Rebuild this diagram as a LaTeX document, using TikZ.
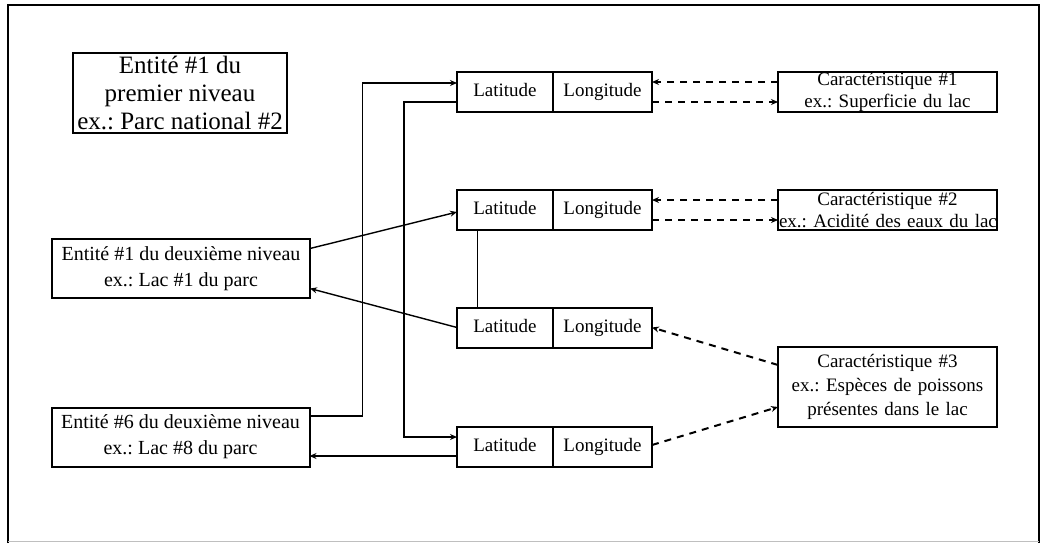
\documentclass[tikz,border=0pt]{standalone}
\usepackage{fontspec}
\setmainfont{Liberation Serif}
\usetikzlibrary{arrows.meta,positioning}
\tikzstyle{topbox}=[rectangle,draw=black,line width=2pt,inner sep=0pt,outer sep=0pt,
  align=center,minimum width=214pt,minimum height=80pt,font=\fontsize{25}{28}\selectfont]
\tikzstyle{entbox}=[rectangle,draw=black,line width=2pt,inner sep=0pt,outer sep=0pt,
  align=center,minimum width=258pt,minimum height=59pt,font=\fontsize{20}{26}\selectfont]
\tikzstyle{latbox}=[rectangle,draw=black,line width=2pt,inner sep=0pt,outer sep=0pt,
  minimum width=96pt,minimum height=40pt,text height=13pt,text depth=4pt,
  font=\fontsize{19}{23}\selectfont]
\tikzstyle{lonbox}=[latbox,minimum width=99pt]
\tikzstyle{carbox}=[rectangle,draw=black,line width=2pt,inner sep=0pt,outer sep=0pt,
  align=center,text width=217pt,minimum width=219pt,minimum height=40pt,
  font=\fontsize{19}{22}\selectfont]
\tikzstyle{link}=[line width=1.4pt,-{Stealth[length=7pt,width=6pt]}]
\tikzstyle{dlink}=[line width=2pt,dash pattern=on 7pt off 6pt,-{Stealth[length=7pt,width=6pt]}]
\tikzstyle{tie}=[line width=1pt]

\begin{document}
\frenchspacing
\begin{tikzpicture}[x=1pt,y=-1pt]
		\useasboundingbox (0,0) rectangle (1048,543);
		% cadre
		\draw [line width=2pt] (8,543) -- (8,5) -- (1039,5) -- (1039,543);
		\draw [line width=1pt,black!25] (8,541.5) -- (1039,541.5);
		% entites
		\node [style=topbox] (parc) at (180,93) {Entité \#1 du\\premier niveau\\ex.: Parc national \#2};
		\node [style=entbox] (lac1) at (181,268.5) {Entité \#1 du deuxième niveau\\ex.: Lac \#1 du parc};
		\node [style=entbox] (lac6) at (180.5,437) {Entité \#6 du deuxième niveau\\ex.: Lac \#8 du parc};
		% coordonnees
		\node [style=latbox] (lat1) at (505,92) {Latitude};
		\node [style=latbox] (lat2) at (505,210) {Latitude};
		\node [style=latbox] (lat3) at (505,327.5) {Latitude};
		\node [style=latbox] (lat4) at (505,447) {Latitude};
		\node [style=lonbox, right=0pt of lat1] (lon1) {Longitude};
		\node [style=lonbox, right=0pt of lat2] (lon2) {Longitude};
		\node [style=lonbox, right=0pt of lat3] (lon3) {Longitude};
		\node [style=lonbox, right=0pt of lat4] (lon4) {Longitude};
		% caracteristiques
		\node [style=carbox] (car1) at (887.5,92) {Caractéristique \#1\\ex.: Superficie du lac};
		\node [style=carbox] (car2) at (887.5,210) {Caractéristique \#2\\\mbox{ex.: Acidité des eaux du lac}};
		\node [style=carbox, minimum height=80pt, font=\fontsize{19}{24}\selectfont] (car3) at (887.5,387)
			{Caractéristique \#3\\ex.: Espèces de poissons\\présentes dans le lac};
		% liens
		\draw [style=link] ([yshift=21pt]lac6.east) -- ++(53,0) |- ([yshift=9pt]lat1.west);
		\draw [style=link] ([yshift=-10pt]lat1.west) -- ++(-53,0) |- ([yshift=10pt]lat4.west);
		\draw [style=link] ([yshift=20pt]lac1.east) to ([yshift=-2pt]lat2.west);
		\draw [style=link] (lat3.west) to ([yshift=-20pt]lac1.east);
		\draw [style=link] ([yshift=-9pt]lat4.west) to ([yshift=-19pt]lac6.east);
		\draw [style=tie] ([xshift=-28pt]lat2.south) to ([xshift=-28pt]lat3.north);
		\draw [style=dlink] ([yshift=10pt]car1.west) to ([yshift=10pt]lon1.east);
		\draw [style=dlink] ([yshift=-10pt]lon1.east) to ([yshift=-10pt]car1.west);
		\draw [style=dlink] ([yshift=10pt]car2.west) to ([yshift=10pt]lon2.east);
		\draw [style=dlink] ([yshift=-10pt]lon2.east) to ([yshift=-10pt]car2.west);
		\draw [style=dlink] ([yshift=22pt]car3.west) to (lon3.east);
		\draw [style=dlink] ([yshift=2pt]lon4.east) to ([yshift=-20pt]car3.west);
\end{tikzpicture}
\end{document}
